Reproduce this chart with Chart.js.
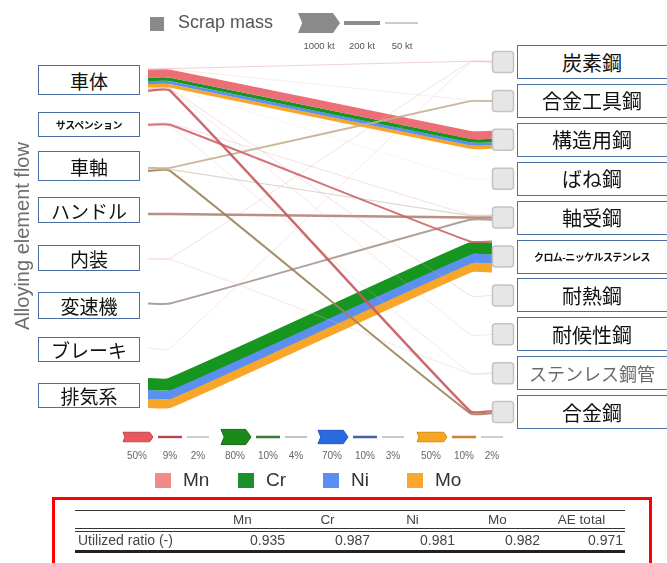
<!DOCTYPE html>
<html>
<head>
<meta charset="utf-8">
<script src="https://cdn.jsdelivr.net/npm/chart.js@4.4.1/dist/chart.umd.min.js"></script>
<style>
  html, body { margin: 0; padding: 0; background: #fff; }
  #wrap { position: relative; width: 667px; height: 563px; overflow: hidden;
          font-family: "Liberation Sans", Arial, sans-serif; }
  #flow { position: absolute; left: 0; top: 0; }
  .box { position: absolute; background: #fff; border: 1.5px solid #4a6fa5; box-sizing: border-box;
         display: flex; align-items: center; justify-content: center; white-space: nowrap;
         font-family: "Noto Sans CJK JP", sans-serif; color: #111; }
  .lbl { position: absolute; white-space: nowrap; }
</style>
</head>
<body>
<div id="wrap">
  <canvas id="flow" width="667" height="563"></canvas>
</div>
<script>
// ---- nodes ----
const sources = ['車体', 'サスペンション', '車軸', 'ハンドル', '内装', '変速機', 'ブレーキ', '排気系'];
const targets = ['炭素鋼', '合金工具鋼', '構造用鋼', 'ばね鋼', '軸受鋼', 'クロム-ニッケルステンレス',
                 '耐熱鋼', '耐候性鋼', 'ステンレス鋼管', '合金鋼'];
const elements = ['Mn', 'Cr', 'Ni', 'Mo'];

// ---- alloying element flows (kt) ----
const flowFrom    = [0, 0, 0, 0,   7, 7, 7,   0, 0, 0, 0, 0, 0,   1, 1, 1,   2, 2, 2,   3,   4, 4,   5,   6];
const flowTo      = [2, 2, 2, 2,   5, 5, 5,   0, 1, 3, 6, 7, 9,   4, 5, 8,   1, 4, 9,   4,   0, 8,   4,   0];
const flowElement = ['Mn', 'Cr', 'Ni', 'Mo', 'Cr', 'Ni', 'Mo',
                     'Mn', 'Mn', 'Mn', 'Mn', 'Mn', 'Mn', 'Mn', 'Mn', 'Mn',
                     'Mo', 'Mo', 'Mo', 'Mn', 'Mn', 'Mn', 'Mo', 'Mn'];
const flowMass    = [400, 175, 150, 175,   600, 450, 450,
                     40, 30, 25, 35, 30, 120,   35, 100, 30,
                     90, 60, 100,   125,   40, 35,   100,   35];

// ---- legend ticks and summary table ----
const scrapMassTicks = [1000, 200, 50];          // kt
const mnShare = [50, 9, 2];                      // %
const crShare = [80, 10, 4];
const niShare = [70, 10, 3];
const moShare = [50, 10, 2];
const ratioLabels = ['Mn', 'Cr', 'Ni', 'Mo', 'AE total'];
const utilizedRatio = [0.935, 0.987, 0.981, 0.982, 0.971];

// ---- styling ----
const PX_PER_KT = 0.02;
const elementColor = { Mn: '#eb6f74', Cr: '#17961f', Ni: '#5b8ff0', Mo: '#f7a62a' };
const thinColor = {
  7: 'rgba(226,150,150,0.55)', 8: 'rgba(232,185,185,0.45)', 9: 'rgba(236,200,200,0.4)',
  10: 'rgba(225,160,160,0.5)', 11: 'rgba(230,175,175,0.5)', 12: 'rgba(200,88,94,0.9)',
  13: 'rgba(225,165,165,0.5)', 14: 'rgba(206,100,102,0.9)', 15: 'rgba(228,172,172,0.5)',
  16: 'rgba(196,176,142,0.9)', 17: 'rgba(206,196,178,0.7)', 18: 'rgba(156,131,92,0.9)',
  19: 'rgba(180,130,116,0.9)', 20: 'rgba(230,180,180,0.5)', 21: 'rgba(230,182,182,0.5)',
  22: 'rgba(166,151,141,0.9)', 23: 'rgba(232,190,190,0.5)'
};
const flowColors = flowMass.map((m, k) => thinColor[k] || elementColor[flowElement[k]]);

// panel geometry (y in px from panel top)
const LEFT_FIRST = 30, LEFT_STEP = 44.7, RIGHT_FIRST = 12, RIGHT_STEP = 38.9;
const BEND = 0.064;
const leftCenter = i => LEFT_FIRST + i * LEFT_STEP;
const rightCenter = j => RIGHT_FIRST + j * RIGHT_STEP;

// stack flows at each node (Sankey style)
const widths = flowMass.map(m => m * PX_PER_KT);
const y0 = [], y1 = [];
const elIdx = e => elements.indexOf(e);
sources.forEach((s, i) => {
  const ks = flowFrom.map((f, k) => k).filter(k => flowFrom[k] === i)
    .sort((a, b) => (flowTo[a] - flowTo[b]) || (elIdx(flowElement[a]) - elIdx(flowElement[b])));
  const total = ks.reduce((t, k) => t + widths[k], 0);
  let cur = leftCenter(i) - total / 2;
  ks.forEach(k => { y0[k] = cur + widths[k] / 2; cur += widths[k]; });
});
targets.forEach((t, j) => {
  const ks = flowTo.map((f, k) => k).filter(k => flowTo[k] === j)
    .sort((a, b) => (flowFrom[a] - flowFrom[b]) || (elIdx(flowElement[a]) - elIdx(flowElement[b])));
  const total = ks.reduce((t2, k) => t2 + widths[k], 0);
  let cur = rightCenter(j) - total / 2;
  ks.forEach(k => { y1[k] = cur + widths[k] / 2; cur += widths[k]; });
});

const datasets = flowFrom.map((s, k) => ({
  data: [{ x: 0, y: y0[k] }, { x: BEND, y: y0[k] }, { x: 1 - BEND, y: y1[k] }, { x: 1, y: y1[k] }],
  borderColor: flowColors[k],
  borderWidth: widths[k],
  tension: 0.2,
  pointRadius: 0,
  fill: false,
  clip: false,
  borderCapStyle: 'butt',
  order: flowMass[k] >= 150 ? 2 : 1
}));

function chevron(ctx, x, cy, w, h, fill, stroke) {
  const n = h * 0.35;
  ctx.beginPath();
  ctx.moveTo(x, cy - h / 2);
  ctx.lineTo(x + w - n, cy - h / 2);
  ctx.lineTo(x + w, cy);
  ctx.lineTo(x + w - n, cy + h / 2);
  ctx.lineTo(x, cy + h / 2);
  ctx.lineTo(x + n * 0.6, cy);
  ctx.closePath();
  ctx.fillStyle = fill;
  ctx.fill();
  if (stroke) { ctx.strokeStyle = stroke; ctx.lineWidth = 1; ctx.stroke(); }
}
function hline(ctx, x1, x2, y, w, c) {
  ctx.beginPath(); ctx.moveTo(x1, y); ctx.lineTo(x2, y);
  ctx.lineWidth = w; ctx.strokeStyle = c; ctx.lineCap = 'butt'; ctx.stroke();
}

const shareSets = [mnShare, crShare, niShare, moShare];
const legendGroupX = [123, 221, 318, 417];
const legendDark = { Mn: '#c2464c', Cr: '#0f6e14', Ni: '#1f56c8', Mo: '#d98a12' };
const legendMid = { Mn: '#b0484e', Cr: '#3a7a3a', Ni: '#4a5fa8', Mo: '#c9822e' };
const legendFill = { Mn: '#e9575f', Cr: '#1a8a1a', Ni: '#2a6ae0', Mo: '#f6a623' };

const decor = {
  id: 'decor',
  afterDatasetsDraw(chart) {
    const { ctx, chartArea, scales } = chart;
    ctx.save();
    // target node markers
    targets.forEach((t, j) => {
      const cy = scales.y.getPixelForValue(rightCenter(j));
      ctx.beginPath();
      ctx.roundRect(chartArea.right + 0.5, cy - 10.5, 21, 21, 3);
      ctx.fillStyle = '#e6e6e6'; ctx.fill();
      ctx.lineWidth = 1.5; ctx.strokeStyle = '#c4c4c4'; ctx.stroke();
    });
    // scrap mass legend
    ctx.fillStyle = '#8a8a8a';
    ctx.fillRect(150, 17, 14, 14);
    chevron(ctx, 298, 23, 42, scrapMassTicks[0] * PX_PER_KT, '#8a8a8a');
    hline(ctx, 344, 380, 23, scrapMassTicks[1] * PX_PER_KT, '#8c8c8c');
    hline(ctx, 385, 418, 23, Math.max(1.2, scrapMassTicks[2] * PX_PER_KT), '#9a9a9a');
    // element share legend
    elements.forEach((e, g) => {
      const x = legendGroupX[g], sh = shareSets[g];
      chevron(ctx, x, 437, 30, sh[0] * 0.19, legendFill[e], legendDark[e]);
      hline(ctx, x + 35, x + 59, 437, 1 + sh[1] * 0.15, legendMid[e]);
      hline(ctx, x + 64, x + 86, 437, 1 + sh[2] * 0.15, '#b3b3b3');
    });
    ctx.restore();
  }
};

new Chart(document.getElementById('flow'), {
  type: 'line',
  data: { datasets },
  options: {
    responsive: false,
    animation: false,
    layout: { padding: { left: 148, right: 175, top: 50, bottom: 138 } },
    scales: {
      x: { type: 'linear', min: 0, max: 1, display: false },
      y: { type: 'linear', min: 0, max: 375, reverse: true, display: false }
    },
    plugins: { legend: { display: false }, tooltip: { enabled: false } }
  },
  plugins: [decor]
});

// ---- text: node boxes, legends, table ----
const wrap = document.getElementById('wrap');
function add(cls, txt, css) {
  const d = document.createElement('div');
  d.className = cls; d.textContent = txt; d.style.cssText = css;
  wrap.appendChild(d); return d;
}

const leftBoxTop = [65, 112, 151, 197, 245, 292, 337, 383];
const leftBoxH = [30, 25, 30, 26, 26, 27, 25, 25];
sources.forEach((s, i) => {
  const small = s.length > 5;
  add('box', s, `left:38px;top:${leftBoxTop[i]}px;width:102px;height:${leftBoxH[i]}px;` +
    (small ? 'font-size:10px;font-weight:bold;letter-spacing:-0.4px;' : 'font-size:19px;'));
});
targets.forEach((t, j) => {
  const cy = 50 + rightCenter(j);
  const small = t.length > 8;
  const grey = t === 'ステンレス鋼管';
  add('box', t, `left:517px;top:${cy - 17}px;width:153px;height:34px;padding-right:3px;` +
    (small ? 'font-size:10px;font-weight:bold;letter-spacing:-0.6px;' : 'font-size:20px;') +
    (grey ? 'color:#6a6a6a;font-size:18px;' : ''));
});

add('lbl', 'Alloying element flow',
  'left:-88px;top:224px;width:220px;text-align:center;font-size:20px;line-height:24px;color:#6e6e6e;transform:rotate(-90deg);');

add('lbl', 'Scrap mass', 'left:178px;top:12px;font-size:18px;color:#555;');
const massX = [319, 362, 402];
scrapMassTicks.forEach((v, i) =>
  add('lbl', v + ' kt', `left:${massX[i] - 25}px;top:40px;width:50px;text-align:center;font-size:9.5px;color:#555;`));

const shareOff = [14, 47, 75];
shareSets.forEach((sh, g) => sh.forEach((v, i) =>
  add('lbl', v + '%', `left:${legendGroupX[g] + shareOff[i] - 20}px;top:450px;width:40px;text-align:center;font-size:10px;color:#666;`)));

const keyColor = { Mn: '#f28a8a', Cr: '#1a8f2a', Ni: '#5a8ef0', Mo: '#f8a82d' };
const keyX = [155, 238, 323, 407];
elements.forEach((e, g) => {
  add('lbl', '', `left:${keyX[g]}px;top:473px;width:16px;height:15px;background:${keyColor[e]};`);
  add('lbl', e, `left:${keyX[g] + 28}px;top:469px;font-size:19px;color:#333;`);
});

// utilized-ratio table
add('lbl', '', 'left:52px;top:497px;width:594px;height:70px;border:3px solid #f00;');
add('lbl', '', 'left:75px;top:510px;width:550px;height:0;border-top:1.5px solid #333;');
add('lbl', '', 'left:75px;top:528px;width:550px;height:2px;border-top:1px solid #333;border-bottom:1px solid #333;');
add('lbl', '', 'left:75px;top:550px;width:550px;height:0;border-top:3px solid #222;');
const colRight = [285, 370, 455, 540, 623];
const colLeft = [200, 285, 370, 455, 540];
ratioLabels.forEach((h, c) => {
  add('lbl', h, `left:${colLeft[c]}px;top:512px;width:${colRight[c] - colLeft[c]}px;text-align:center;font-size:13.5px;color:#444;`);
  add('lbl', utilizedRatio[c].toFixed(3), `left:${colRight[c] - 80}px;top:532px;width:80px;text-align:right;font-size:14px;color:#444;`);
});
add('lbl', 'Utilized ratio (-)', 'left:78px;top:532px;font-size:14px;color:#444;');
</script>
</body>
</html>
